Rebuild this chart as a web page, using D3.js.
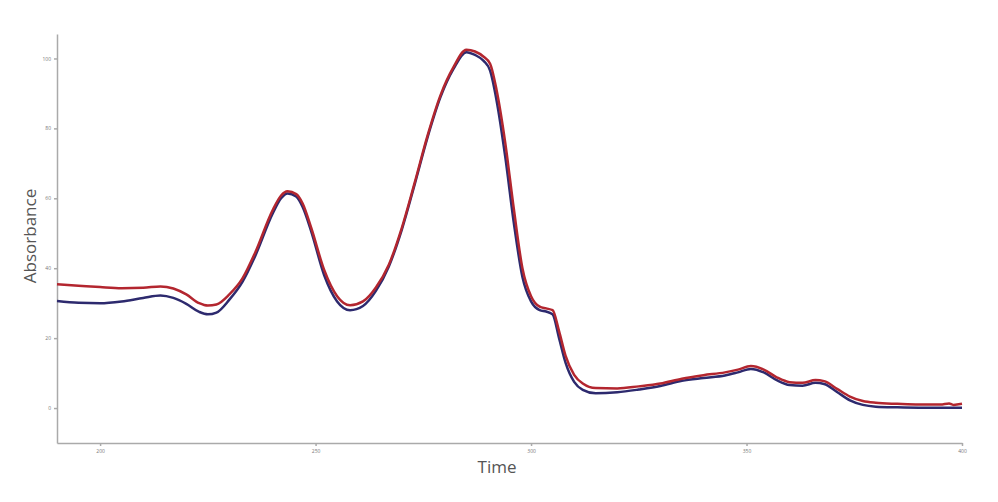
<!DOCTYPE html>
<html>
<head>
<meta charset="utf-8">
<script src="https://cdn.jsdelivr.net/npm/d3@7"></script>
<style>
  body { margin: 0; background: #fff; }
  .axis path, .axis line { stroke: #aaa; stroke-width: 1.5; }
  .axis text { fill: #777; font-size: 5px; font-family: "Open Sans", sans-serif; }
  .title { fill: #555; font-size: 17px; font-family: "Open Sans", sans-serif; }
</style>
</head>
<body>
<script>
// data
var time = [190, 195, 200, 205, 210, 214, 217, 220, 223, 225, 227, 230, 233, 236, 240, 242, 243.5, 245.5, 247, 249, 252, 255,
  258, 261, 264, 267, 270, 273, 276, 279, 282, 285, 287, 289, 290.5, 292, 294, 296, 298, 300, 302, 303.5,
  305, 306.5, 308, 310, 312, 315, 320, 325, 330, 335, 340, 345, 348, 351, 354, 357, 360, 363, 366, 368,
  371, 374, 377, 380, 385, 390, 395, 397, 398, 400];

var redSeries = [35.4, 35.0, 34.6, 34.3, 34.4, 34.8, 34.2, 32.5, 30.0, 29.3, 29.6, 32.5, 37.0, 44.5, 56.5, 60.8, 62.0, 61.2, 58.5, 51.5, 39.5, 32.0,
  29.4, 30.5, 34.5, 41.0, 51.5, 64.5, 78.0, 89.5, 97.5, 102.5, 102.0, 100.5, 98.5, 91.0, 76.0, 57.0, 40.0, 32.0, 29.0, 28.5,
  28.0, 22.0, 15.0, 9.5, 7.0, 5.7, 5.6, 6.2, 7.0, 8.4, 9.4, 10.2, 11.0, 12.0, 11.0, 8.8, 7.4, 7.2, 8.0, 7.7,
  5.5, 3.3, 2.0, 1.5, 1.2, 1.0, 1.0, 1.3, 0.9, 1.2];

var blueSeries = [30.6, 30.1, 30.0, 30.5, 31.5, 32.2, 31.5, 29.8, 27.5, 26.8, 27.3, 31.0, 36.0, 43.5, 55.5, 60.0, 61.4, 60.5, 57.5, 50.5, 38.0, 30.5,
  28.0, 29.2, 33.5, 40.5, 51.0, 64.0, 77.5, 89.0, 97.0, 101.8, 101.0, 99.3, 96.5, 88.0, 72.0, 53.0, 37.5, 30.5, 28.0, 27.6,
  26.8, 20.0, 13.0, 7.5, 5.2, 4.2, 4.5, 5.3, 6.3, 7.8, 8.6, 9.3, 10.2, 11.2, 10.2, 8.0, 6.6, 6.4, 7.2, 6.9,
  4.6, 2.2, 0.9, 0.4, 0.2, 0.1, 0.1, 0.1, 0.1, 0.1];

var xTicks = [200, 250, 300, 350, 400];
var yTicks = [0, 20, 40, 60, 80, 100];

var width = 998, height = 502;
var svg = d3.select("body").append("svg")
  .attr("width", width)
  .attr("height", height);

var x = d3.scaleLinear().domain([190, 400]).range([57, 962]);
var y = d3.scaleLinear().domain([-10, 107]).range([443, 34]);

// axes
svg.append("g")
  .attr("class", "axis")
  .attr("transform", "translate(0,443)")
  .call(d3.axisBottom(x).tickValues(xTicks).tickSize(3).tickSizeOuter(0));

svg.append("g")
  .attr("class", "axis")
  .attr("transform", "translate(57,0)")
  .call(d3.axisLeft(y).tickValues(yTicks).tickSize(3).tickSizeOuter(0));

// axis titles
svg.append("text")
  .attr("class", "title")
  .attr("x", 497)
  .attr("y", 473)
  .attr("text-anchor", "middle")
  .text("Time");

svg.append("text")
  .attr("class", "title")
  .attr("transform", "translate(36,236) rotate(-90)")
  .attr("text-anchor", "middle")
  .text("Absorbance");

// lines
var line = d3.line()
  .x(function(d) { return x(d[0]); })
  .y(function(d) { return y(d[1]); })
  .curve(d3.curveMonotoneX);

svg.append("path")
  .datum(d3.zip(time, blueSeries))
  .attr("fill", "none")
  .attr("stroke", "#2d2a6e")
  .attr("stroke-width", 2.5)
  .attr("d", line);

svg.append("path")
  .datum(d3.zip(time, redSeries))
  .attr("fill", "none")
  .attr("stroke", "#b3262f")
  .attr("stroke-width", 2.5)
  .attr("d", line);
</script>
</body>
</html>
